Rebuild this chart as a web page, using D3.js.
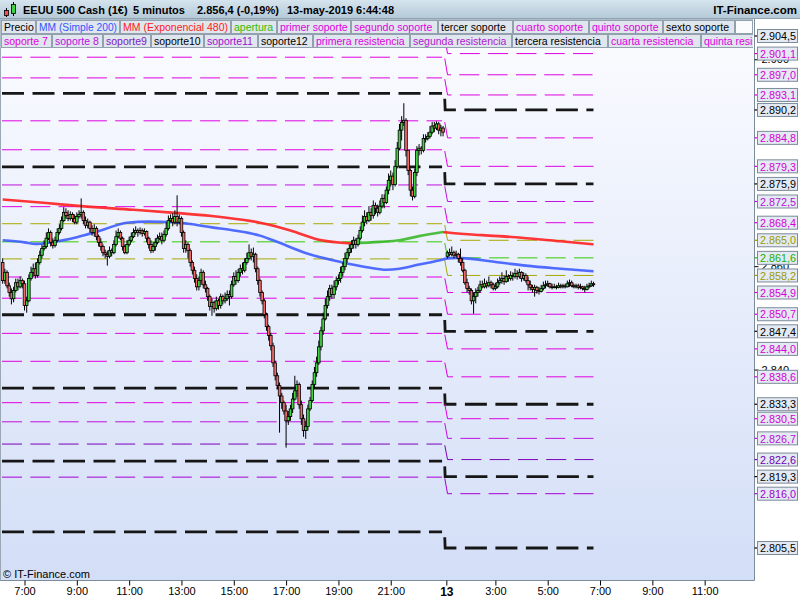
<!DOCTYPE html>
<html><head><meta charset="utf-8">
<script src="https://cdn.jsdelivr.net/npm/d3@7"></script>
<style>
body{margin:0;background:#fff;}
svg{display:block;font-family:"Liberation Sans",Arial,sans-serif;}
</style>
</head><body>
<svg id="c" width="800" height="600"></svg>
<script>
// ---------------- DATA ----------------
const titleParts = ["EEUU 500 Cash (1€)", "5 minutos", "2.856,4 (-0,19%)", "13-may-2019 6:44:48"];
const brand = "IT-Finance.com";
const copyright = "© IT-Finance.com";

const legendRow1 = ["Precio","MM (Simple 200)","MM (Exponencial 480)","apertura","primer soporte","segundo soporte","tercer soporte","cuarto soporte","quinto soporte","sexto soporte"];
const legendRow2 = ["soporte 7","soporte 8","soporte9","soporte10","soporte11","soporte12","primera resistencia","segunda resistencia","tercera resistencia","cuarta resistencia","quinta resistencia"];

// time axis (bar index of 5-minute bars)
const timeTickBars = [10,34,58,82,106,130,154,178,203.5,226,250,274,298,322];
const timeTickLabels = ["7:00","9:00","11:00","13:00","15:00","17:00","19:00","21:00","13","3:00","5:00","7:00","9:00","11:00"];
const priceTicks = [2900, 2860, 2840];

// day 1 (12-may) bars, index 0..202
const day1Start = 0;
const day1FirstOpen = 2860.7;
const day1Close = [
2857.2,2858.8,2856.2,2854.9,2853.7,2855.3,2856.8,2856.0,2857.2,2856.6,
2852.4,2853.3,2857.6,2858.8,2859.5,2858.2,2860.7,2862.1,2863.4,2863.8,
2865.4,2866.5,2864.6,2864.0,2865.0,2866.5,2867.3,2868.8,2870.4,2869.8,
2869.2,2870.0,2869.2,2868.5,2869.6,2870.0,2870.4,2868.8,2867.9,2868.5,
2867.3,2866.5,2867.3,2865.7,2864.6,2863.8,2862.6,2862.3,2861.9,2863.0,
2862.6,2864.2,2865.7,2866.5,2865.4,2863.8,2862.6,2864.2,2865.0,2865.7,
2866.5,2866.9,2866.5,2866.9,2866.3,2866.7,2865.4,2864.2,2863.0,2863.8,
2864.6,2865.4,2865.7,2865.0,2866.1,2867.3,2868.8,2869.2,2868.5,2869.6,
2868.5,2869.2,2866.5,2863.4,2864.2,2863.0,2860.7,2859.2,2857.6,2856.0,
2857.2,2858.8,2856.4,2855.7,2854.1,2852.2,2853.0,2851.8,2853.3,2852.4,
2854.1,2853.3,2853.7,2854.5,2854.1,2856.4,2858.0,2857.2,2858.8,2859.5,
2859.2,2860.7,2861.5,2862.6,2861.9,2862.3,2859.5,2857.2,2854.9,2853.3,
2850.6,2848.3,2846.6,2844.6,2841.3,2838.8,2836.9,2834.9,2833.6,2832.0,
2830.1,2830.9,2832.4,2834.3,2835.9,2837.1,2833.2,2830.5,2828.2,2829.0,
2832.4,2834.0,2837.1,2839.4,2841.3,2844.4,2847.5,2849.8,2852.4,2854.1,
2855.7,2854.5,2856.0,2857.2,2857.6,2858.8,2859.9,2861.5,2862.6,2863.4,
2864.2,2865.0,2864.2,2865.4,2866.9,2868.5,2869.6,2868.8,2870.4,2869.8,
2871.7,2871.2,2870.4,2871.6,2873.1,2872.3,2874.7,2876.6,2877.4,2875.8,
2879.3,2882.8,2886.3,2887.8,2888.2,2882.4,2878.5,2874.7,2873.5,2878.1,
2882.4,2882.8,2882.4,2884.7,2884.7,2885.1,2885.9,2887.1,2886.7,2887.5,
2886.3,2886.7,2885.9];
const day1High = [
2861.5,2859.5,2859.2,2856.8,2855.7,2856.0,2857.6,2857.6,2858.0,2857.6,
2857.2,2854.1,2858.4,2859.9,2860.5,2860.7,2861.5,2863.0,2864.2,2865.0,
2866.5,2867.3,2866.9,2865.4,2865.7,2867.3,2868.1,2869.6,2871.4,2871.2,
2870.8,2870.6,2870.4,2870.0,2870.4,2870.8,2873.1,2870.8,2869.6,2869.2,
2868.8,2867.9,2868.1,2867.7,2866.1,2865.4,2864.2,2863.2,2863.0,2863.8,
2863.4,2865.0,2866.9,2867.3,2866.9,2865.7,2864.2,2865.0,2865.7,2866.5,
2867.3,2867.7,2867.3,2867.5,2867.3,2867.3,2866.9,2865.7,2865.0,2864.6,
2865.4,2866.1,2866.5,2866.5,2866.9,2868.5,2869.8,2870.0,2870.2,2870.8,
2873.7,2870.0,2869.6,2866.9,2865.0,2864.6,2863.4,2861.1,2859.9,2858.4,
2858.0,2859.5,2859.2,2857.2,2856.0,2854.5,2853.7,2853.3,2854.1,2853.7,
2854.7,2854.5,2854.9,2855.3,2855.3,2857.2,2858.8,2859.2,2859.5,2860.3,
2860.7,2861.5,2862.6,2864.2,2863.4,2863.6,2862.6,2859.9,2857.6,2855.3,
2853.7,2851.0,2848.7,2847.1,2845.2,2841.7,2839.4,2837.5,2835.5,2834.0,
2833.2,2832.0,2833.2,2835.5,2838.8,2837.9,2837.5,2834.0,2831.3,2830.1,
2833.2,2834.7,2837.9,2840.5,2842.5,2845.6,2848.3,2851.0,2853.7,2855.3,
2856.4,2856.4,2857.2,2858.0,2858.4,2859.9,2860.7,2862.6,2863.4,2864.2,
2865.0,2865.7,2865.4,2866.1,2867.7,2869.8,2870.8,2870.4,2871.6,2871.2,
2872.7,2872.3,2871.9,2872.7,2873.9,2873.9,2875.4,2877.9,2878.5,2878.1,
2880.5,2884.0,2887.5,2889.0,2891.5,2888.6,2882.4,2878.9,2875.4,2878.9,
2883.2,2883.6,2883.2,2885.5,2885.5,2885.9,2887.1,2887.9,2887.9,2888.0,
2887.9,2887.3,2887.1];
const day1Low = [
2856.6,2856.6,2855.7,2854.1,2852.6,2853.0,2854.9,2855.3,2855.7,2855.7,
2851.4,2851.0,2853.0,2857.2,2858.0,2857.6,2857.8,2860.3,2861.5,2863.0,
2863.4,2865.0,2863.8,2863.4,2863.6,2864.6,2866.1,2866.9,2868.5,2869.2,
2868.7,2868.8,2868.5,2868.1,2868.1,2869.2,2869.2,2868.1,2867.3,2867.3,
2866.5,2865.9,2865.7,2865.0,2863.8,2863.0,2861.9,2861.5,2860.1,2861.5,
2861.9,2862.3,2863.8,2865.4,2865.0,2863.0,2862.3,2862.3,2863.8,2864.6,
2865.4,2866.1,2865.7,2866.1,2865.7,2865.9,2864.6,2863.4,2862.5,2862.6,
2863.0,2864.2,2865.0,2864.2,2864.6,2865.7,2866.9,2868.5,2867.7,2868.1,
2867.7,2868.1,2865.7,2862.6,2862.6,2861.5,2859.9,2858.4,2856.8,2855.3,
2855.3,2856.4,2855.7,2854.9,2853.3,2851.4,2850.4,2851.0,2851.4,2851.6,
2851.8,2852.6,2852.8,2853.3,2852.4,2853.7,2856.0,2856.4,2856.8,2858.0,
2858.4,2858.8,2860.3,2861.1,2861.1,2860.7,2858.8,2856.4,2854.1,2852.6,
2849.9,2847.5,2845.6,2843.7,2840.5,2837.9,2836.3,2827.8,2832.4,2831.3,
2824.9,2829.3,2830.1,2831.6,2834.0,2834.7,2832.4,2829.3,2827.0,2826.6,
2828.2,2832.0,2833.6,2836.3,2838.6,2840.9,2843.7,2846.7,2849.5,2851.8,
2853.3,2853.7,2853.7,2855.3,2856.4,2856.8,2858.0,2859.2,2860.7,2861.9,
2862.6,2863.4,2863.4,2863.8,2865.0,2866.5,2867.7,2868.1,2868.5,2868.8,
2869.2,2870.0,2869.6,2870.0,2871.2,2871.2,2872.0,2873.9,2875.4,2874.7,
2875.4,2878.9,2882.4,2884.3,2887.1,2881.2,2877.6,2873.5,2872.7,2873.1,
2877.4,2881.4,2881.6,2882.0,2883.9,2884.3,2884.7,2885.5,2885.9,2886.3,
2885.5,2885.1,2885.1];

// day 2 (13-may) bars, index 204..271
const day2Start = 204;
const day2FirstOpen = 2861.9;
const day2Close = [
2862.6,2862.3,2862.6,2862.1,2862.3,2861.5,2860.7,2859.2,2856.8,2855.7,
2855.3,2853.3,2854.1,2854.9,2855.3,2856.4,2856.0,2856.6,2856.2,2856.8,
2856.4,2855.7,2856.0,2856.8,2857.2,2857.6,2857.0,2858.0,2857.6,2858.2,
2858.0,2858.6,2858.0,2858.8,2857.6,2858.2,2857.2,2856.4,2855.9,2855.5,
2855.9,2855.3,2855.1,2855.7,2856.2,2856.4,2856.6,2856.0,2855.9,2856.0,
2855.9,2856.2,2856.0,2856.2,2856.0,2856.6,2856.8,2856.2,2856.0,2856.2,
2855.9,2856.0,2855.7,2855.5,2856.0,2856.2,2856.6,2856.4];
const day2High = [
2863.0,2863.4,2863.8,2863.0,2863.0,2862.6,2863.4,2861.5,2859.5,2857.6,
2856.2,2855.7,2854.9,2855.7,2856.0,2857.2,2857.2,2857.6,2857.2,2858.0,
2857.2,2856.8,2856.8,2857.6,2858.0,2858.8,2858.2,2859.2,2858.4,2859.0,
2858.8,2859.5,2859.2,2859.5,2859.0,2858.8,2858.6,2858.0,2857.2,2856.4,
2856.4,2856.2,2856.0,2856.4,2857.0,2857.2,2857.2,2856.8,2856.6,2856.6,
2856.4,2856.8,2856.6,2856.6,2856.6,2857.2,2857.4,2857.2,2856.6,2856.6,
2856.6,2856.6,2856.2,2856.2,2856.6,2856.8,2857.2,2857.0];
const day2Low = [
2861.5,2861.9,2861.9,2861.5,2861.7,2860.7,2860.1,2858.8,2856.4,2854.9,
2854.5,2852.6,2850.8,2852.8,2854.1,2854.9,2855.7,2855.7,2855.7,2855.9,
2855.7,2855.3,2855.3,2855.7,2856.4,2856.6,2856.4,2856.8,2857.0,2857.2,
2857.2,2857.6,2857.4,2857.6,2857.0,2857.2,2856.8,2855.3,2855.3,2854.9,
2854.1,2854.7,2854.5,2854.9,2855.3,2855.7,2856.0,2855.7,2855.5,2855.7,
2855.5,2855.7,2855.7,2855.7,2855.7,2855.9,2856.0,2855.9,2855.7,2855.7,
2855.5,2855.5,2855.3,2854.9,2855.3,2855.7,2856.0,2856.0];

// moving averages (read at selected bars)
const smaBars = [0,10,15,22,34,45,57,67,78,85,96,106,118,124,140,155,167,176,182,191,200,204,208,228,240,256,271];
const sma200  = [2865.0,2864.6,2864.3,2864.6,2865.6,2866.9,2868.4,2868.6,2868.5,2868.2,2867.5,2866.9,2865.9,2865.0,2862.4,2860.8,2859.8,2859.3,2859.5,2860.3,2861.1,2861.5,2861.6,2860.7,2860.1,2859.5,2859.0];
const emaBars = [0,20,36,60,79,100,118,132,145,160,173,182,191,202,204,220,238,256,271];
const ema480  = [2872.9,2872.2,2871.6,2870.9,2870.3,2869.5,2868.4,2866.9,2865.1,2864.4,2864.7,2865.0,2865.8,2866.6,2866.5,2866.0,2865.5,2864.8,2864.2];

// pivot levels: previous session (left) and current session (right)
const resistPrev  = [2871.5,2875.7,2879.2,2882.5,2888.1,2893.4,2896.4,2900.4,2904.4,2907.8];
const resistCur   = [2868.4,2872.5,2875.9,2879.3,2884.8,2890.2,2893.1,2897.0,2901.1,2904.5];
const supportPrev = [2857.9,2853.8,2850.6,2847.0,2841.6,2836.4,2833.6,2829.9,2825.6,2822.3,2819.2,2808.6];
const supportCur  = [2854.9,2850.7,2847.4,2844.0,2838.6,2833.3,2830.5,2826.7,2822.6,2819.3,2816.0,2805.5];
const aperturaPrev = 2864.7, aperturaCur = 2861.6;
const oliveHighPrev = 2868.2, oliveHighCur = 2865.0;
const oliveLowPrev = 2861.4, oliveLowCur = 2858.2;

// ---------------- STYLES / LAYOUT ----------------
const STY = {
  m:{c:'#e000e0',t:'#d400d4',w:1,k:false},
  m2:{c:'#c010e0',t:'#b810d8',w:1,k:false},
  p:{c:'#7a00b8',t:'#7000b0',w:1,k:false},
  p2:{c:'#a400d4',t:'#9c00cc',w:1,k:false},
  k:{c:'#161616',t:'#000',w:2.8,k:true},
  g:{c:'#33cc00',t:'#22b000',w:1,k:false},
  o:{c:'#a8a800',t:'#9a9a00',w:1,k:false}
};
const resistStyle  = ['m','m2','k','m','m','k','m','m','m','k'];
const supportStyle = ['m','m','k','m','m','k','m','m2','p','k','p2','k'];
const row1X = [1,36,120,231,277,351,438,513,589,663,735];
const row2X = [1,52,103,151,204,258,313,410,512,608,701,760];
const row1C = ['#000','#3355ff','#ff1a1a','#33bb00','#e000e0','#e000e0','#000','#e000e0','#e000e0','#000'];
const row2C = ['#e000e0','#c010e0','#8020c0','#000','#a010d0','#000','#e000e0','#b020d0','#000','#e000e0','#e000e0'];

const PR = 754.5, PT = 19, PB = 580.5;
const x = d3.scaleLinear().domain([-1.2385, 344.63]).range([0, 754]);
const y = d3.scaleLinear().domain([2904.5, 2805.5]).range([36, 548]);
const loc = d3.formatLocale({decimal:',', thousands:'.', grouping:[3], currency:['','']});
const fmt1 = loc.format(',.1f'), fmt0 = loc.format(',.0f');

const svg = d3.select('#c');
const defs = svg.append('defs');
const gp = defs.append('linearGradient').attr('id','plotbg').attr('x1',0).attr('y1',0).attr('x2',0).attr('y2',1);
gp.append('stop').attr('offset','0%').attr('stop-color','#fbfcff');
gp.append('stop').attr('offset','100%').attr('stop-color','#d3def7');
const gh = defs.append('linearGradient').attr('id','hdr').attr('x1',0).attr('y1',0).attr('x2',0).attr('y2',1);
gh.append('stop').attr('offset','0%').attr('stop-color','#d5e4ee');
gh.append('stop').attr('offset','100%').attr('stop-color','#b3c8d6');
defs.append('clipPath').attr('id','clip').append('rect').attr('x',0).attr('y',PT).attr('width',PR).attr('height',PB-PT);
defs.append('clipPath').attr('id','lclip').append('rect').attr('x',0).attr('y',0).attr('width',753).attr('height',60);

svg.append('rect').attr('width',800).attr('height',600).attr('fill','#fff');
svg.append('rect').attr('x',0).attr('y',PT).attr('width',PR).attr('height',PB-PT).attr('fill','url(#plotbg)');

// ---------------- LEVEL LINES ----------------
const levels = [];
resistPrev.forEach((v,i)=>levels.push({prev:v,cur:resistCur[i],s:STY[resistStyle[i]]}));
supportPrev.forEach((v,i)=>levels.push({prev:v,cur:supportCur[i],s:STY[supportStyle[i]]}));
levels.push({prev:aperturaPrev,cur:aperturaCur,s:STY.g});
levels.push({prev:oliveHighPrev,cur:oliveHighCur,s:STY.o});
levels.push({prev:oliveLowPrev,cur:oliveLowCur,s:STY.o});

const lg = svg.append('g').attr('clip-path','url(#clip)');
const leftEnd = x(day2Start-2) - 1;
const stepX = x(day2Start-1) - 0.7;
const rightEnd = x(day2Start + day2Close.length - 1);
levels.forEach(L=>{
  const yp = y(L.prev), yc = y(L.cur);
  const dash = L.s.k ? '22 8.5' : '20 8.3';
  lg.append('path').attr('d',`M0,${yp}H${leftEnd}`)
    .attr('fill','none').attr('stroke',L.s.c).attr('stroke-width',L.s.w)
    .attr('stroke-dasharray',dash).attr('stroke-dashoffset', L.s.k?28.5:26.3);
  const dx = L.s.k ? 0.6 : 3;
  lg.append('path').attr('d',`M${stepX},${yp}L${stepX+dx},${yc}H${rightEnd}`)
    .attr('fill','none').attr('stroke',L.s.c).attr('stroke-width',L.s.w)
    .attr('stroke-dasharray',dash).attr('stroke-dashoffset', L.s.k?-5.3:-1.3);
});

// ---------------- MOVING AVERAGES ----------------
const mg = svg.append('g').attr('clip-path','url(#clip)');
const line = d3.line().x(d=>x(d[0])).y(d=>y(d[1])).curve(d3.curveMonotoneX);
const smaPts = smaBars.map((b,i)=>[b,sma200[i]]);
mg.append('path').attr('d',line(smaPts)).attr('fill','none').attr('stroke','#3f5cff').attr('stroke-width',2.6).attr('stroke-opacity',0.9);
const emaPts = emaBars.map((b,i)=>[b,ema480[i]]);
// split into rising (green) / falling (red) runs
let runs = [], cur = null;
for (let i=1;i<emaPts.length;i++){
  const up = emaPts[i][1] > emaPts[i-1][1];
  if (!cur || cur.up !== up){ cur = {up, pts:[emaPts[i-1]]}; runs.push(cur); }
  cur.pts.push(emaPts[i]);
}
runs.forEach(r=>{
  mg.append('path').attr('d',line(r.pts)).attr('fill','none')
    .attr('stroke', r.up ? '#3cb82a' : '#ff2020').attr('stroke-width',2.6).attr('stroke-opacity',0.9);
});

// ---------------- CANDLES ----------------
function mk(start, firstOpen, C, Hh, Ll){
  return C.map((c,i)=>({b:start+i, o: i===0 ? firstOpen : C[i-1], h:Hh[i], l:Ll[i], c}));
}
const bars = mk(day1Start, day1FirstOpen, day1Close, day1High, day1Low)
  .concat(mk(day2Start, day2FirstOpen, day2Close, day2High, day2Low));
const cg = svg.append('g').attr('clip-path','url(#clip)');
cg.selectAll('line.w').data(bars).join('line').attr('class','w')
  .attr('x1',d=>x(d.b)).attr('x2',d=>x(d.b))
  .attr('y1',d=>y(Math.max(d.h,d.o,d.c))).attr('y2',d=>y(Math.min(d.l,d.o,d.c)))
  .attr('stroke','#000').attr('stroke-width',1);
cg.selectAll('rect.b').data(bars).join('rect').attr('class','b')
  .attr('x',d=>x(d.b)-1.3).attr('width',2.6)
  .attr('y',d=>y(Math.max(d.o,d.c)))
  .attr('height',d=>Math.max(y(Math.min(d.o,d.c))-y(Math.max(d.o,d.c)),0.8))
  .attr('fill',d=>d.c>=d.o ? '#3fd43f' : '#f06a6a')
  .attr('stroke','#000').attr('stroke-width',0.8);

// ---------------- FRAME ----------------
svg.append('line').attr('x1',PR).attr('x2',PR).attr('y1',PT).attr('y2',PB).attr('stroke','#7d8c9b');
svg.append('line').attr('x1',0).attr('x2',PR).attr('y1',PB).attr('y2',PB).attr('stroke','#7d8c9b');
svg.append('line').attr('x1',0.5).attr('x2',0.5).attr('y1',PT).attr('y2',PB).attr('stroke','#9aa8b6');

// ---------------- HEADER ----------------
svg.append('rect').attr('x',0).attr('y',0).attr('width',800).attr('height',19).attr('fill','url(#hdr)');
svg.append('line').attr('x1',0).attr('x2',800).attr('y1',18.5).attr('y2',18.5).attr('stroke','#8fa3b3');
// icon
svg.append('line').attr('x1',6.5).attr('x2',6.5).attr('y1',8).attr('y2',17).attr('stroke','#000');
svg.append('rect').attr('x',4.5).attr('y',10.5).attr('width',4).attr('height',5).attr('fill','#f05050').attr('stroke','#000').attr('stroke-width',0.8);
svg.append('line').attr('x1',13.5).attr('x2',13.5).attr('y1',2).attr('y2',16).attr('stroke','#000');
svg.append('rect').attr('x',11.5).attr('y',4.5).attr('width',4).attr('height',9).attr('fill','#40d040').attr('stroke','#000').attr('stroke-width',0.8);
const titleX = [23,133,197,287];
titleParts.forEach((t,i)=>svg.append('text').attr('x',titleX[i]).attr('y',14).attr('font-size',11).attr('font-weight','bold').attr('fill','#000').text(t));
svg.append('text').attr('x',797).attr('y',14).attr('text-anchor','end').attr('font-size',11.5).attr('font-weight','bold').attr('fill','#000').text(brand);

// ---------------- LEGEND ----------------
const leg = svg.append('g').attr('clip-path','url(#lclip)');
leg.append('rect').attr('x',0).attr('y',19).attr('width',754).attr('height',29).attr('fill','#aebdca');
function legendRow(labels, xs, cols, y0){
  labels.forEach((t,i)=>{
    const x0 = xs[i], w = xs[i+1]-xs[i]-1;
    leg.append('rect').attr('x',x0+0.5).attr('y',y0+0.5).attr('width',w).attr('height',13)
      .attr('fill','#dfe6ed').attr('stroke','#93a1ae');
    const tx = leg.append('text').attr('x',x0+3).attr('y',y0+11).attr('font-size',10.5).attr('fill',cols[i]).text(t);
    const tl = tx.node().getComputedTextLength();
    if (tl > w-4 && i < labels.length-1) tx.attr('textLength',w-5).attr('lengthAdjust','spacingAndGlyphs');
  });
}
legendRow(legendRow1, row1X, row1C, 20);
leg.append('rect').attr('x',row1X[row1X.length-1]+0.5).attr('y',20.5).attr('width',17).attr('height',13).attr('fill','#fbfcfe').attr('stroke','#93a1ae');
legendRow(legendRow2, row2X, row2C, 34);

// ---------------- RIGHT AXIS ----------------
const ra = svg.append('g').attr('transform',`translate(${PR},0)`)
  .call(d3.axisRight(y).tickValues(priceTicks).tickFormat(fmt0).tickSize(4));
ra.select('.domain').remove();
ra.selectAll('text').attr('font-size',11).attr('fill','#000').attr('font-family','"Liberation Sans",Arial,sans-serif');
ra.selectAll('line').attr('stroke','#000');
const labs = levels.map(L=>({v:L.cur, s:L.s}));
const rl = svg.append('g');
labs.forEach(d=>{
  const yy = y(d.v);
  const g = rl.append('g').attr('transform',`translate(0,${yy})`);
  g.append('line').attr('x1',PR).attr('x2',758).attr('y1',0).attr('y2',0).attr('stroke',d.s.t).attr('stroke-width',1.2);
  g.append('rect').attr('x',757.5).attr('y',-6.5).attr('width',40).attr('height',13)
    .attr('fill','#e3eaf3').attr('stroke','#7c8b99');
  g.append('text').attr('x',760).attr('y',4.2).attr('font-size',11).attr('fill',d.s.t)
    .attr('textLength',36).attr('lengthAdjust','spacingAndGlyphs').text(fmt1(d.v));
});

// ---------------- BOTTOM AXIS ----------------
const xa = svg.append('g').attr('transform',`translate(0,${PB})`)
  .call(d3.axisBottom(x).tickValues(timeTickBars).tickFormat((d,i)=>timeTickLabels[i]).tickSize(5).tickPadding(2));
xa.select('.domain').remove();
xa.selectAll('line').attr('stroke','#000');
xa.selectAll('text').attr('fill','#000').attr('font-family','"Liberation Sans",Arial,sans-serif')
  .attr('font-weight',(d,i)=>timeTickLabels[i]==='13'?'bold':'normal')
  .attr('font-size',(d,i)=>timeTickLabels[i]==='13'?12:11);

svg.append('text').attr('x',3).attr('y',578).attr('font-size',11).attr('fill','#000').text(copyright);
</script>
</body></html>
